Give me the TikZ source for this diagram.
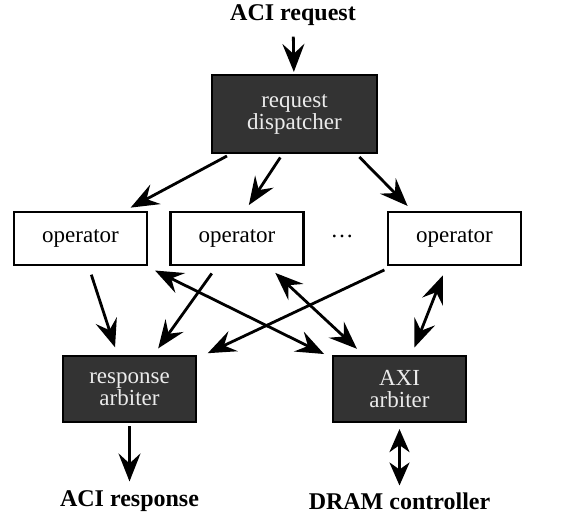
\documentclass[tikz,border=0pt]{standalone}
\usepackage{fontspec}
\setmainfont{Liberation Serif}
\usetikzlibrary{arrows.meta}
\tikzset{
	unit/.style={draw, line width=1.1pt, minimum width=66.5pt, inner sep=0pt, align=center, font=\fontsize{11.5}{11}\selectfont},
	opbox/.style={unit, fill=white, minimum height=26.5pt},
	darkbox/.style={unit, fill=black!80, text=white!92!black, minimum height=33pt},
	label/.style={font=\fontsize{12}{12}\selectfont\bfseries},
	flow/.style={draw, line width=1.4pt, -{Stealth[length=14pt,width=11pt,inset=5pt]}},
	biflow/.style={draw, line width=1.4pt, {Stealth[length=14pt,width=11pt,inset=5pt]}-{Stealth[length=14pt,width=11pt,inset=5pt]}},
	shortbiflow/.style={draw, line width=1.4pt, {Stealth[length=11.5pt,width=10pt,inset=3.5pt]}-{Stealth[length=11.5pt,width=10pt,inset=3.5pt]}}
}
\begin{document}
\begin{tikzpicture}[x=0.5pt,y=-0.5pt]
\useasboundingbox (0,0) rectangle (568,516);
% blocks
\node[label] (req) at (293,15) {ACI request};
\node[darkbox, minimum width=82.5pt, minimum height=39pt] (disp) at (294.5,114) {request\\dispatcher};
\node[opbox] (op1) at (80.5,238.5) {operator};
\node[opbox] (op2) at (237,238.5) {operator};
\node (dots) at (342,236) {\fontsize{11.5}{11}\selectfont\dots};
\node[opbox] (op3) at (454.5,238.5) {operator};
\node[darkbox] (resp) at (129.5,389) {response\\arbiter};
\node[darkbox] (axi) at (399.5,389) {AXI\\arbiter};
\node[label] (aciresp) at (129.5,501) {ACI response};
\node[label] (dram) at (399.5,501) {DRAM controller};
% dispatcher side
\draw[flow, shorten <=2pt, shorten >=1pt] (req) -- (disp);
\draw[flow, shorten <=2pt, shorten >=3.5pt] ([xshift=-32pt]disp.south) -- ([xshift=22pt]op1.north);
\draw[flow, shorten <=2pt, shorten >=3.5pt] ([xshift=-6pt]disp.south) -- ([xshift=4pt]op2.north);
\draw[flow, shorten <=2pt, shorten >=3.5pt] ([xshift=31pt]disp.south) -- ([xshift=-21pt]op3.north);
% operators to arbiters
\draw[flow, shorten <=4.5pt, shorten >=4pt] ([xshift=4pt]op1.south) -- ([xshift=-6pt]resp.north);
\draw[flow, shorten <=4.5pt, shorten >=4pt] ([xshift=-10pt]op2.south) -- ([xshift=12pt]resp.north);
\draw[flow, shorten <=4.5pt, shorten >=2pt] ([xshift=-31pt]op3.south) -- ([xshift=3.5pt]resp.north east);
\draw[biflow, shorten <=5pt, shorten >=1pt] ([xshift=-1pt]op1.south east) -- ([xshift=-3pt]axi.north west);
\draw[biflow, shorten <=5pt, shorten >=4.5pt] ([xshift=15.5pt]op2.south) -- ([xshift=-18pt]axi.north);
\draw[biflow, shorten <=5pt, shorten >=4pt] ([xshift=-4pt]op3.south) -- ([xshift=6pt]axi.north);
% outputs
\draw[flow, shorten <=1.5pt, shorten >=1pt] (resp) -- (aciresp);
\draw[shortbiflow, shorten <=3pt] (axi) -- (dram);
\end{tikzpicture}
\end{document}
